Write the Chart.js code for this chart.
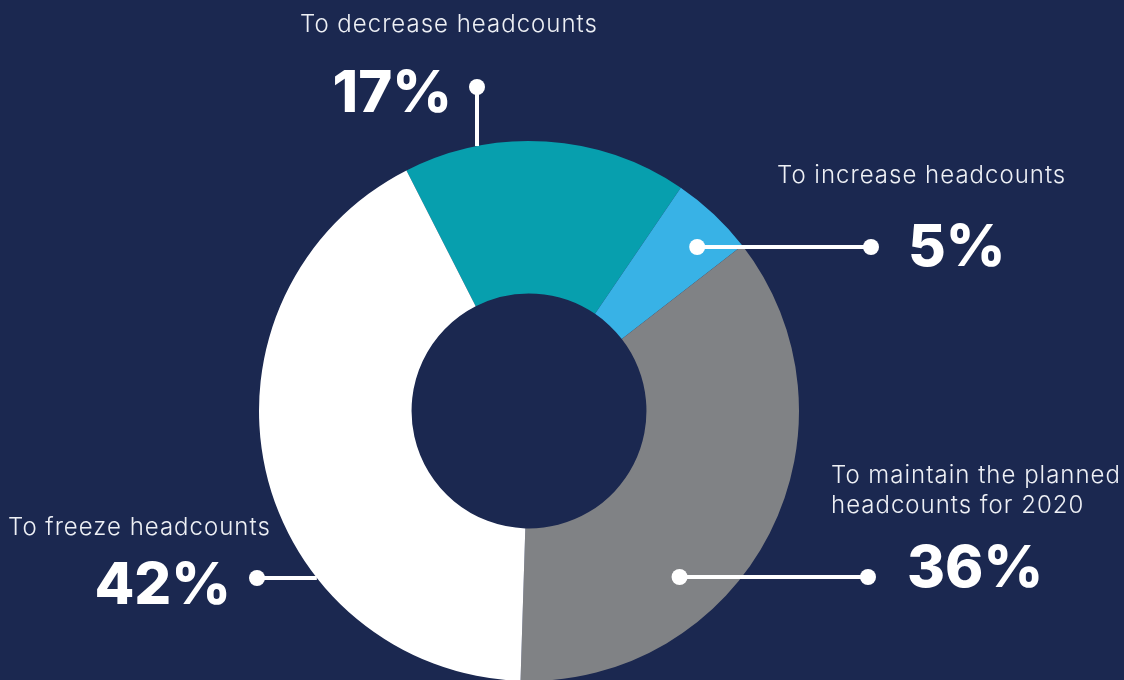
<!DOCTYPE html>
<html>
<head>
<meta charset="utf-8">
<script src="https://cdn.jsdelivr.net/npm/chart.js@4/dist/chart.umd.min.js"></script>
<style>
    html, body { margin: 0; padding: 0; background: #1b2850; overflow: hidden; }
    #wrap { position: relative; width: 1124px; height: 680px; }
</style>
</head>
<body>
<div id="wrap"><canvas id="graficoRosca"></canvas></div>
<script>
// headcount plans, share of respondents
const categorias = [
    "To decrease headcounts",
    "To increase headcounts",
    "To maintain the planned headcounts for 2020",
    "To freeze headcounts"
];
const valores = [17, 5, 36, 42];
const cores = ["#079fae", "#38b2e6", "#808285", "#ffffff"];

// text lines shown next to each slice
const rotulos = [
    ["To decrease headcounts"],
    ["To increase headcounts"],
    ["To maintain the planned", "headcounts for 2020"],
    ["To freeze headcounts"]
];

document.addEventListener("DOMContentLoaded", () => {

    // where each callout sits: outer dot, direction of the leader and how deep it reaches
    const chamadas = [
        { dot: [477, 87],  dir: "down",  reach: 1.0,  inner: false,
          pct: [452, 112, "right"], txt: [300, 32, "left"] },
        { dot: [871, 247], dir: "left",  reach: 0.87, inner: true,
          pct: [908, 266, "left"],  txt: [777, 183, "left"] },
        { dot: [868, 577], dir: "left",  reach: 0.83, inner: true,
          pct: [907, 587, "left"],  txt: [831, 483, "left"] },
        { dot: [257, 578], dir: "right", reach: 1.0,  inner: false,
          pct: [231, 604, "right"], txt: [8, 535, "left"] }
    ];

    const chamadasPlugin = {
        id: 'chamadas',
        afterDatasetsDraw(chart) {
            const { ctx } = chart;
            const arcos = chart.getDatasetMeta(0).data;

            ctx.save();
            arcos.forEach((arco, i) => {
                const c = chamadas[i];
                const { x: cx, y: cy, outerRadius } = arco.getProps(['x', 'y', 'outerRadius'], true);
                const r = outerRadius * c.reach;
                const [dx, dy] = c.dot;
                let ex, ey;
                if (c.dir === "down") {
                    ex = dx;
                    ey = cy - Math.sqrt(r * r - (dx - cx) * (dx - cx));
                } else {
                    ey = dy;
                    const off = Math.sqrt(r * r - (dy - cy) * (dy - cy));
                    ex = c.dir === "left" ? cx + off : cx - off;
                }

                // leader line
                ctx.beginPath();
                ctx.lineWidth = 4;
                ctx.strokeStyle = "#ffffff";
                ctx.moveTo(dx, dy);
                ctx.lineTo(ex, ey);
                ctx.stroke();

                ctx.fillStyle = "#ffffff";
                ctx.beginPath();
                ctx.arc(dx, dy, 8, 0, Math.PI * 2);
                ctx.fill();
                if (c.inner) {
                    ctx.beginPath();
                    ctx.arc(ex, ey, 8, 0, Math.PI * 2);
                    ctx.fill();
                }

                // big percentage
                ctx.letterSpacing = "0px";
                ctx.font = "800 58px Inter";
                ctx.textAlign = c.pct[2];
                ctx.textBaseline = "alphabetic";
                ctx.fillText(valores[i] + "%", c.pct[0], c.pct[1]);

                // description
                ctx.letterSpacing = "1px";
                ctx.font = "300 24px Inter";
                ctx.textAlign = c.txt[2];
                ctx.fillStyle = "#eef0f5";
                rotulos[i].forEach((linha, k) => {
                    ctx.fillText(linha, c.txt[0], c.txt[1] + k * 30);
                });
            });
            ctx.restore();
        }
    };

    const ctx = document.getElementById("graficoRosca").getContext("2d");
    new Chart(ctx, {
        type: "doughnut",
        data: {
            labels: categorias,
            datasets: [{
                data: valores,
                backgroundColor: cores,
                borderWidth: 0
            }]
        },
        options: {
            responsive: true,
            maintainAspectRatio: false,
            animation: false,
            rotation: -27,
            radius: 270,
            cutout: "43.5%",
            layout: { padding: { left: 0, right: 66, top: 142, bottom: 0 } },
            plugins: {
                legend: { display: false },
                tooltip: { enabled: false }
            }
        },
        plugins: [chamadasPlugin]
    });
});
</script>
</body>
</html>
